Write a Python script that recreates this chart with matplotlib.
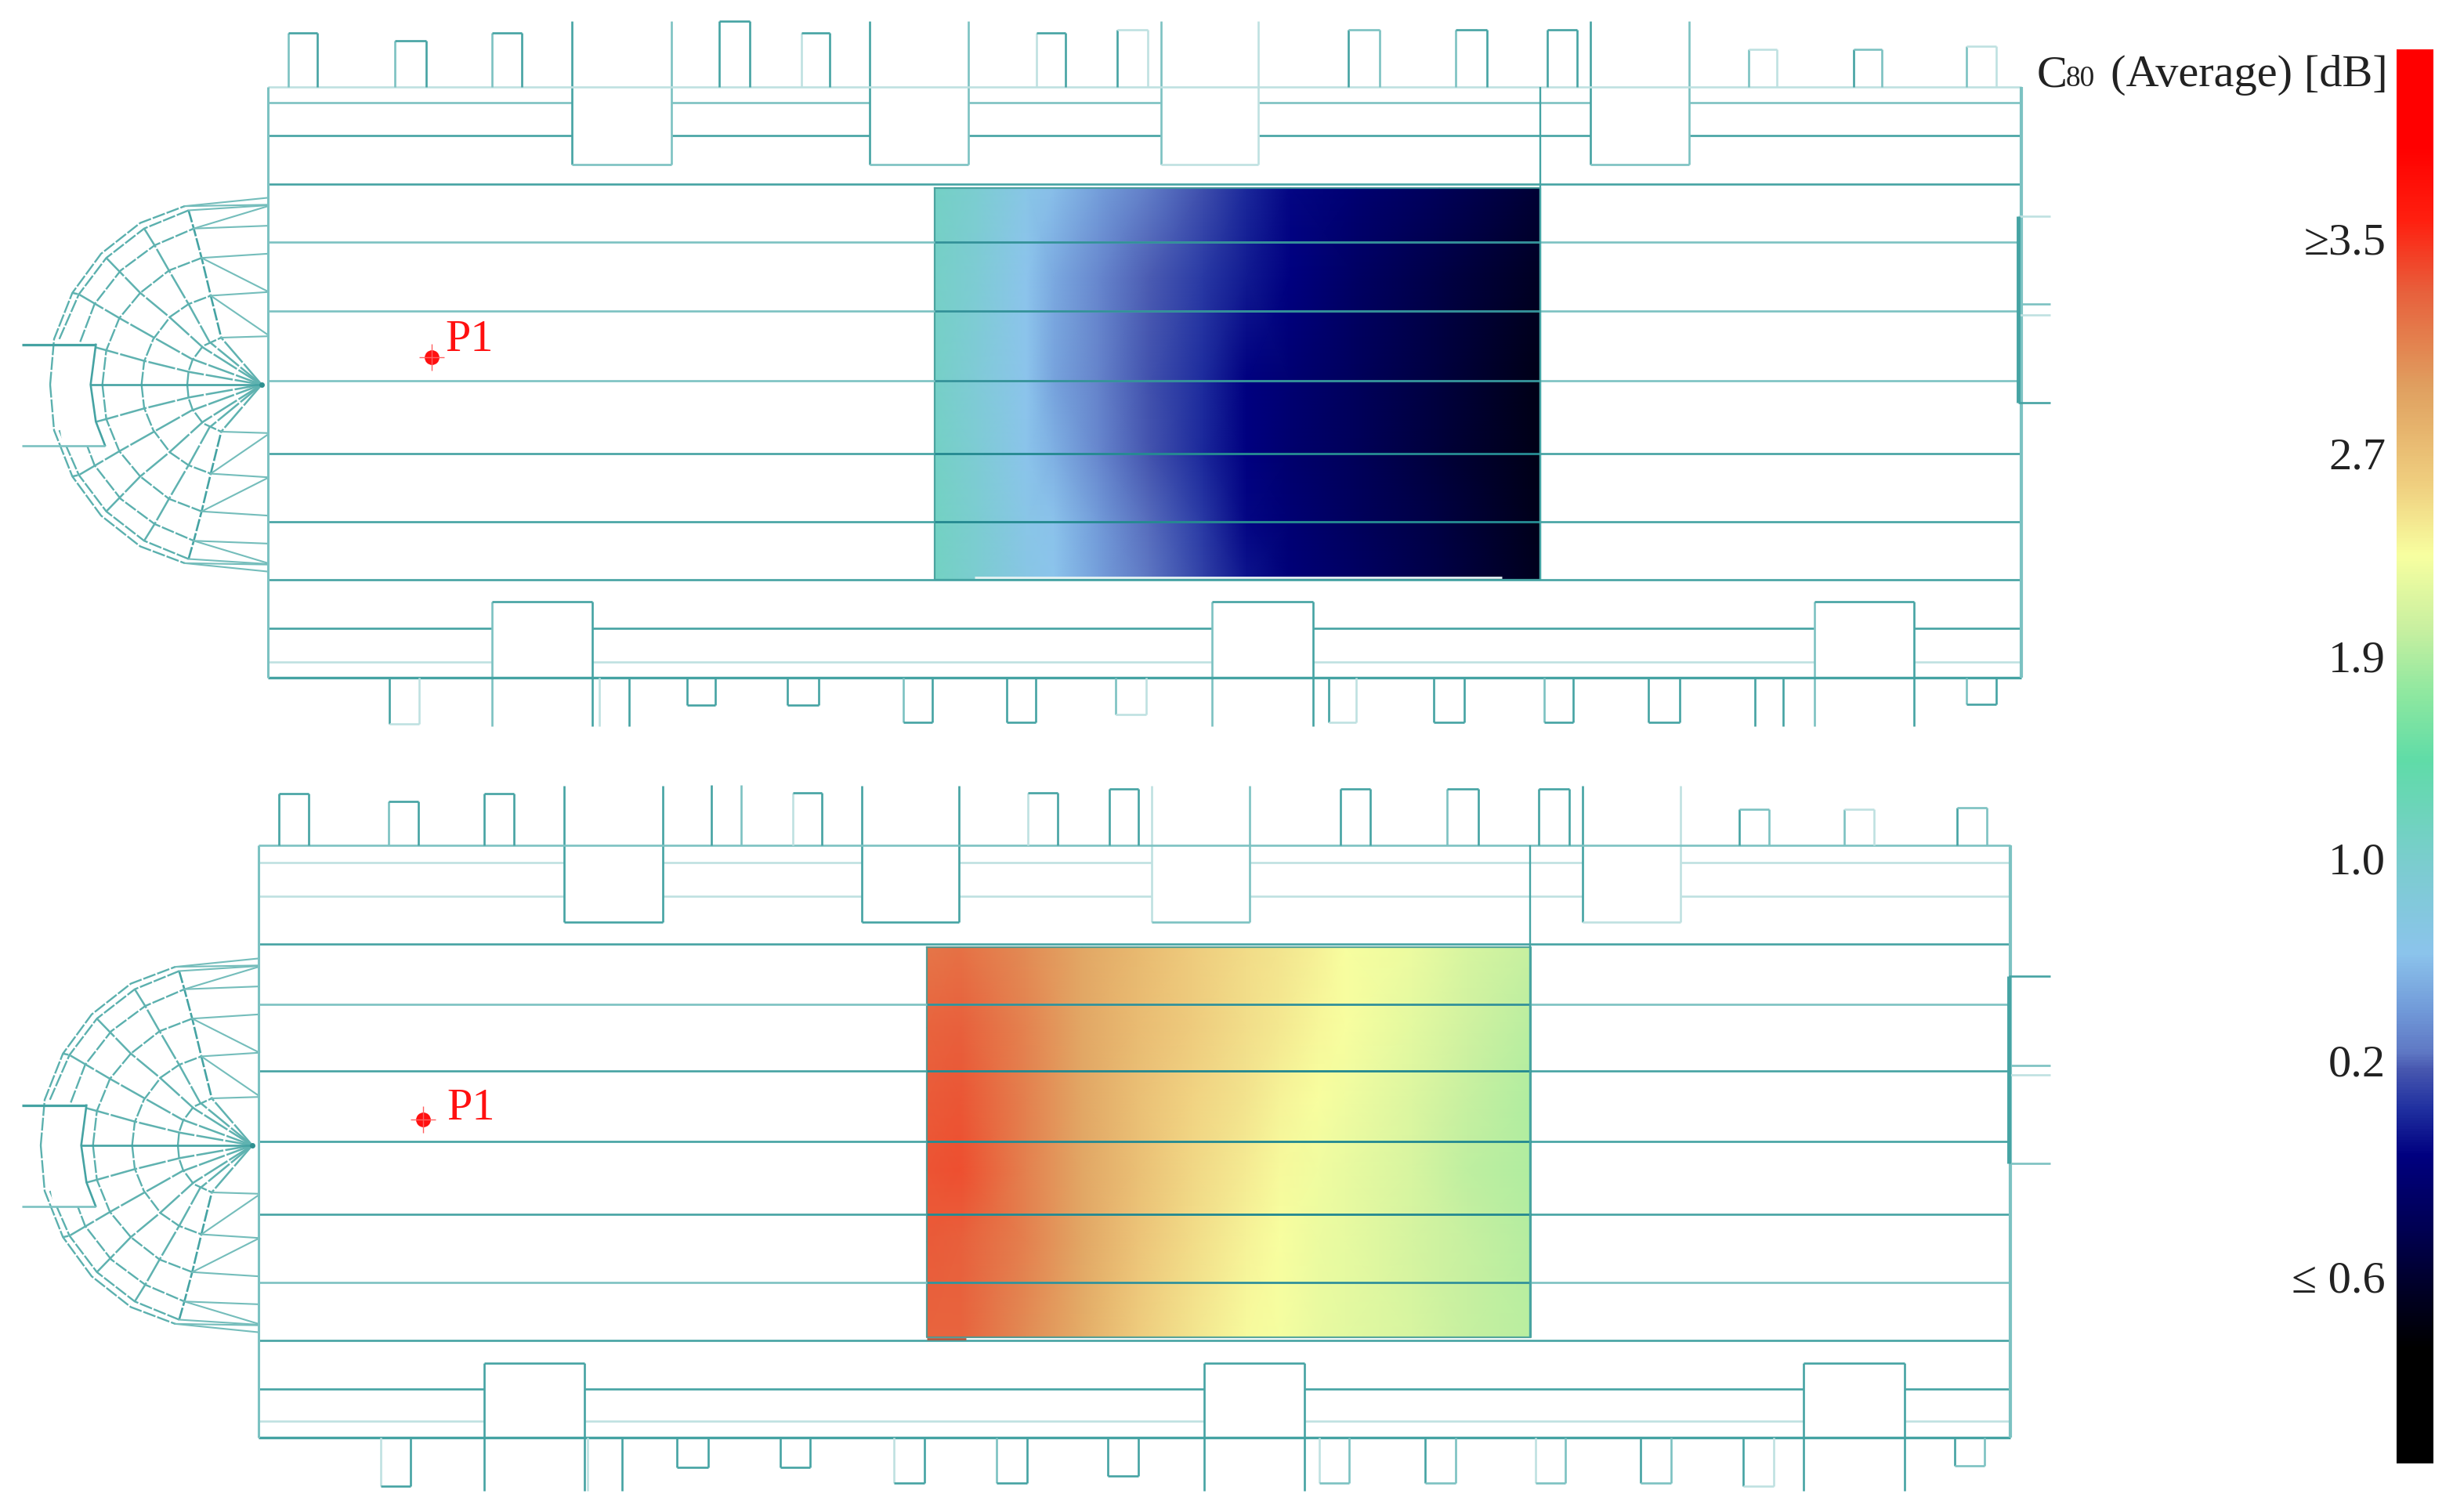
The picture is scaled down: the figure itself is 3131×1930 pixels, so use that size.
import numpy as np
import matplotlib
matplotlib.use("Agg")
import matplotlib.pyplot as plt
from matplotlib.colors import LinearSegmentedColormap, Normalize

W, H = 3131, 1931
SHADES = {"d": "#45a3a3", "m": "#7cc2c2", "l": "#bfe1e1"}
SERIF = ["Liberation Serif", "DejaVu Serif"]

# colour bar, position 0 = bottom, 1 = top
CBAR_POS = [0.0, 0.08, 0.115, 0.162, 0.217, 0.25, 0.278, 0.29, 0.318, 0.36, 0.422, 0.497,
            0.544, 0.59, 0.643, 0.692, 0.762, 0.83, 0.88, 0.933, 1.0]
CBAR_COLORS = ["#000000", "#000000", "#000020", "#000050", "#000080", "#2030a0", "#4858b0",
               "#5f78c4", "#7098d8", "#8cc4ec", "#7ccdd0", "#60dca8", "#8ee8a0", "#c8f0a0",
               "#f8ffa0", "#f0d080", "#e0a060", "#e8603c", "#ff2010", "#ff0000", "#ff0000"]
CBAR_MIN, CBAR_MAX = -1.3, 4.22
CBAR_TICKS = [3.486, 2.646, 1.856, 1.066, 0.276, -0.569]
CBAR_LABELS = ["≥3.5", "2.7", "1.9", "1.0", "0.2", "≤ 0.6"]

# heat maps [dB]
TOP_HEAT_X = [1193, 1247, 1310, 1345, 1402, 1465, 1535, 1591, 1647, 1731, 1837, 1966]
TOP_HEAT_Y = [241, 355, 490, 582, 667, 741]
TOP_HEAT = [
    [1.14, 1.02, 0.75, 0.66, 0.50, 0.33, 0.20, 0.05, -0.08, -0.20, -0.35, -0.55],
    [1.12, 0.98, 0.69, 0.55, 0.38, 0.25, 0.12, 0.00, -0.10, -0.28, -0.45, -0.65],
    [1.12, 0.95, 0.69, 0.52, 0.36, 0.22, 0.06, -0.10, -0.20, -0.33, -0.50, -0.72],
    [1.14, 0.98, 0.70, 0.58, 0.38, 0.23, 0.05, -0.10, -0.22, -0.35, -0.52, -0.72],
    [1.16, 1.02, 0.75, 0.68, 0.47, 0.28, 0.12, -0.08, -0.18, -0.32, -0.48, -0.70],
    [1.16, 1.02, 0.78, 0.69, 0.50, 0.30, 0.15, -0.02, -0.15, -0.28, -0.45, -0.68],
]
BOT_HEAT_X = [1183, 1226, 1310, 1381, 1451, 1521, 1591, 1633, 1682, 1717, 1802, 1872, 1954]
BOT_HEAT_Y = [1210, 1313, 1405, 1495, 1586, 1708]
BOT_HEAT = [
    [3.15, 3.18, 3.02, 2.85, 2.70, 2.55, 2.45, 2.40, 2.33, 2.25, 2.18, 2.05, 1.95],
    [3.25, 3.28, 3.07, 2.85, 2.68, 2.55, 2.44, 2.38, 2.30, 2.25, 2.12, 2.00, 1.90],
    [3.30, 3.32, 3.08, 2.85, 2.65, 2.50, 2.40, 2.32, 2.25, 2.20, 2.08, 1.95, 1.85],
    [3.33, 3.35, 3.08, 2.85, 2.65, 2.48, 2.36, 2.28, 2.20, 2.15, 2.05, 1.92, 1.85],
    [3.30, 3.28, 3.08, 2.85, 2.62, 2.45, 2.32, 2.25, 2.18, 2.14, 2.04, 1.95, 1.88],
    [3.25, 3.25, 3.02, 2.80, 2.55, 2.40, 2.27, 2.23, 2.15, 2.12, 2.05, 1.95, 1.90],
]

# plan outlines, pixel coordinates of the drawing
TOP_LINES = [(132, "m"), (174, "d"), (236, "d"), (310, "m"), (398, "m"), (487, "m"),
             (580, "d"), (667, "d"), (741, "d"), (803, "d"), (846, "l")]
TOP_WINDOWS = [(368, 405, 43, "md"), (504, 544, 53, "md"), (628, 666, 43, "md"), (918, 957, 28, "dd"),
               (1023, 1059, 43, "ld"), (1323, 1360, 43, "ld"), (1426, 1465, 39, "dl"), (1721, 1761, 39, "dm"),
               (1858, 1898, 39, "md"), (1975, 2013, 39, "dd"), (2232, 2268, 64, "ml"), (2366, 2402, 64, "dm"),
               (2510, 2548, 60, "ml")]
TOP_CHAPELS = [(730, 857, "dm"), (1110, 1236, "dm"), (1482, 1606, "ml"), (2030, 2156, "dm")]
TOP_LOW_WINDOWS = [(497, 535, 925, "dl"), (765, 803, 928, "ld"), (877, 913, 901, "dd"), (1005, 1045, 901, "dd"),
                   (1153, 1190, 923, "md"), (1285, 1322, 923, "dd"), (1424, 1463, 913, "ml"), (1696, 1731, 923, "dl"),
                   (1830, 1869, 923, "dd"), (1971, 2008, 923, "md"), (2104, 2144, 923, "dd"), (2240, 2276, 928, "dd"),
                   (2510, 2548, 900, "md")]
TOP_LOW_CHAPELS = [(628, 756, "md"), (1547, 1676, "md"), (2316, 2443, "md")]

BOT_LINES = [(1102, "l"), (1145, "l"), (1206, "d"), (1283, "m"), (1368, "d"), (1458, "d"),
             (1551, "d"), (1638, "m"), (1712, "d"), (1774, "d"), (1815, "l")]
BOT_WINDOWS = [(356, 394, 1014, "dd"), (496, 534, 1024, "md"), (618, 656, 1014, "dd"), (908, 946, 1003, "dmx"),
               (1012, 1049, 1013, "ld"), (1312, 1350, 1013, "ld"), (1416, 1453, 1008, "dd"), (1711, 1749, 1008, "dd"),
               (1847, 1887, 1008, "md"), (1964, 2003, 1008, "dd"), (2220, 2258, 1034, "dm"), (2354, 2392, 1034, "ml"),
               (2498, 2536, 1032, "dm")]
BOT_CHAPELS = [(720, 846, "dd"), (1100, 1224, "dd"), (1470, 1595, "lm"), (2020, 2145, "dl")]
BOT_LOW_WINDOWS = [(486, 524, 1898, "ld"), (750, 794, 1904, "ld"), (864, 904, 1874, "dd"), (996, 1034, 1874, "dd"),
                   (1141, 1180, 1894, "ld"), (1272, 1311, 1894, "md"), (1414, 1453, 1885, "dd"), (1684, 1722, 1894, "lm"),
                   (1819, 1858, 1894, "dm"), (1960, 1998, 1894, "lm"), (2094, 2133, 1894, "dm"), (2225, 2264, 1898, "dl"),
                   (2495, 2533, 1872, "dm")]
BOT_LOW_CHAPELS = [(618, 746, "dd"), (1537, 1665, "dd"), (2302, 2431, "dd")]

# half dome, upper half only, points read in a 3 x 2.8 scaled crop, tip at (965, 793)
DOME_TIP = (965, 793)
DOME_SX, DOME_SY = 3.0, 2.8
DOME_ARCS = [
    [(680, 793), (685, 745), (700, 705), (740, 655), (810, 625)],
    [(505, 793), (515, 710), (550, 630), (615, 550), (685, 505), (770, 475)],
    [(355, 793), (370, 670), (420, 555), (500, 465), (610, 385), (735, 340)],
    [(270, 640), (325, 505), (425, 385), (555, 295), (705, 235)],
    [(190, 630), (265, 470), (370, 340), (515, 235), (685, 170)],
    [(155, 793), (170, 630), (240, 465), (350, 325), (500, 215), (670, 155)],
]
DOME_SPOKES = [
    [(965, 793), (690, 748), (515, 708), (370, 670), (330, 660)],
    [(965, 793), (695, 700), (420, 555), (265, 470), (240, 465)],
    [(965, 793), (740, 660), (610, 550), (500, 465), (370, 340)],
    [(965, 793), (765, 640), (685, 505), (610, 385), (555, 295), (515, 235)],
    [(965, 793), (810, 625)],
]
DOME_RING = [(685, 170), (705, 235), (735, 340), (770, 475), (810, 625)]
DOME_FAN = [(670, 155, 125), (670, 155, 150), (685, 170, 152), (705, 235, 225), (705, 235, 155),
            (735, 340, 325), (735, 340, 460), (770, 475, 462), (770, 475, 615), (810, 625, 620)]
# chapel at the far end of the dome, not symmetric about the axis
CHAPEL_OUT = [(330, 650), (310, 793), (330, 925), (365, 1010)]
CHAPEL_FILL = [(180, 650), (330, 650), (310, 793), (330, 925), (365, 1010), (205, 1010), (168, 793)]


def seg(ax, x0, y0, x1, y1, shade="d", lw=1.9, zorder=3, **kw):
    ax.plot([x0, x1], [y0, y1], color=SHADES.get(shade, shade), lw=lw, zorder=zorder,
            solid_capstyle="butt", **kw)


def draw_apse(ax, tip_x, tip_y, wall_x):
    def to_xy(pts, flip=False):
        pts = np.array(pts, dtype=float)
        if flip:
            pts[:, 1] = 2 * DOME_TIP[1] - pts[:, 1]
        return (tip_x + (pts[:, 0] - DOME_TIP[0]) / DOME_SX,
                tip_y + (pts[:, 1] - DOME_TIP[1]) / DOME_SY)

    for flip in (False, True):
        for arc in DOME_ARCS:
            ax.plot(*to_xy(arc, flip), color="#5bb0ae", lw=1.7, ls=(0, (7, 1)), zorder=2)
        for spoke in DOME_SPOKES:
            ax.plot(*to_xy(spoke, flip), color="#5fb2b0", lw=1.8, ls=(0, (14, 1)), zorder=2)
        ax.plot(*to_xy(DOME_RING, flip), color="#45a3a3", lw=1.9, ls=(0, (6, 1)), zorder=2)
        for nx, ny, wy in DOME_FAN:
            xs, ys = to_xy([(nx, ny), (wall_x, wy)], flip)
            xs[1] = wall_x
            ax.plot(xs, ys, color="#74bdbb", lw=1.5, zorder=2)
    xs, ys = to_xy(CHAPEL_FILL)
    ax.fill(xs, ys, color="white", zorder=2.5)
    xs, ys = to_xy(CHAPEL_OUT)
    ax.plot(xs, ys, color=SHADES["d"], lw=1.9, zorder=3)
    seg(ax, 28, ys[0], xs[0], ys[0], "d", 2.3)
    seg(ax, 28, ys[-1], xs[-1], ys[-1], "m", 1.9)
    seg(ax, xs[1], tip_y, wall_x - 8, tip_y, "d", 1.9)
    ax.plot([tip_x], [tip_y], "o", color="#2f9090", ms=5, mec="none", zorder=3)


def draw_plan(ax, x0, x1, y_top, y_wall_bot, lines, windows, chapels, chap_top, chap_bot,
              low_windows, low_chapels, low_top, low_bot, split_x, heat_x, heat_y, top_shade):
    for y, shade in lines:
        seg(ax, x0, y, x1, y, shade, zorder=2)
        # lines show darker where they cross the heat map
        if heat_y[0] < y < heat_y[-1]:
            seg(ax, heat_x[0], y, heat_x[-1], y, "#18808a", zorder=2.2, alpha=0.75)
    # the chapels sit on top of the aisle lines
    for cx0, cx1, s in chapels:
        ax.fill([cx0, cx1, cx1, cx0], [chap_top, chap_top, chap_bot, chap_bot], color="white", zorder=2.6)
        seg(ax, cx0, chap_top, cx0, chap_bot, s[0])
        seg(ax, cx1, chap_top, cx1, chap_bot, s[1])
        seg(ax, cx0, chap_bot, cx1, chap_bot, s[1])
    for cx0, cx1, s in low_chapels:
        ax.fill([cx0, cx1, cx1, cx0], [low_top, low_top, y_wall_bot, y_wall_bot], color="white", zorder=2.6)
        seg(ax, cx0, low_top, cx0, low_bot, s[0])
        seg(ax, cx1, low_top, cx1, low_bot, s[1])
        seg(ax, cx0, low_top, cx1, low_top, s[1])
    seg(ax, x0, y_top, x1, y_top, top_shade)
    seg(ax, x0, y_wall_bot, x1, y_wall_bot, "d", 2.4)
    seg(ax, x0, y_top, x0, y_wall_bot, "m", 2.2)
    seg(ax, x1, y_top, x1, y_wall_bot, "m", 3)
    seg(ax, split_x, y_top, split_x, heat_y[-1], "d", 1.7, zorder=4)
    for a, b, top, s in windows:
        seg(ax, a, top, a, y_top, s[0])
        seg(ax, b, top, b, y_top, s[1])
        if len(s) == 2:
            seg(ax, a, top, b, top, s[1])
    for a, b, bot, s in low_windows:
        seg(ax, a, y_wall_bot, a, bot, s[0])
        seg(ax, b, y_wall_bot, b, bot, s[1])
        if bot < low_bot:
            seg(ax, a, bot, b, bot, s[1])


fig = plt.figure(figsize=(W / 100, H / 100), dpi=100, facecolor="white")
ax = fig.add_axes([0, 0, 1, 1])
ax.set_xlim(0, W)
ax.set_ylim(H, 0)
ax.axis("off")

cmap = LinearSegmentedColormap.from_list("c80", list(zip(CBAR_POS, CBAR_COLORS)), N=512)
norm = Normalize(CBAR_MIN, CBAR_MAX)

ax.pcolormesh(TOP_HEAT_X, TOP_HEAT_Y, np.array(TOP_HEAT), shading="gouraud", cmap=cmap, norm=norm, zorder=1)
ax.pcolormesh(BOT_HEAT_X, BOT_HEAT_Y, np.array(BOT_HEAT), shading="gouraud", cmap=cmap, norm=norm, zorder=1)
# heat map outlines
for hx, hy in ((TOP_HEAT_X, TOP_HEAT_Y), (BOT_HEAT_X, BOT_HEAT_Y)):
    ax.plot([hx[0], hx[-1], hx[-1], hx[0], hx[0]], [hy[0], hy[0], hy[-1], hy[-1], hy[0]],
            color="#3f9a96", lw=1.6, alpha=0.85, zorder=1.5)
# pale sliver and short dark end along the lower edge
seg(ax, 1244, 738, 1917, 738, "#e6f2f2", 2.0, zorder=1.6)
seg(ax, 1183, 1710, 1233, 1710, "#b05a40", 2.0, zorder=2.5)

draw_plan(ax, 342, 2580, 112, 866, TOP_LINES, TOP_WINDOWS, TOP_CHAPELS, 28, 211,
          TOP_LOW_WINDOWS, TOP_LOW_CHAPELS, 769, 928, 1966, TOP_HEAT_X, TOP_HEAT_Y, "l")
draw_plan(ax, 330, 2566, 1080, 1836, BOT_LINES, BOT_WINDOWS, BOT_CHAPELS, 1004, 1178,
          BOT_LOW_WINDOWS, BOT_LOW_CHAPELS, 1741, 1904, 1953, BOT_HEAT_X, BOT_HEAT_Y, "m")
draw_apse(ax, 334, 492, 342)
draw_apse(ax, 322, 1463, 330)

# apertures on the right hand wall
for y, s in [(277, "l"), (389, "m"), (403, "l"), (515, "d")]:
    seg(ax, 2576, y, 2617, y, s)
seg(ax, 2576, 277, 2576, 515, "d", 3.5)
for y, s in [(1247, "d"), (1361, "m"), (1373, "l"), (1486, "m")]:
    seg(ax, 2564, y, 2617, y, s)
seg(ax, 2564, 1247, 2564, 1486, "d", 3.5)

# receiver points
for px, py, tx, ty in [(551, 457, 568, 434), (540, 1430, 570, 1415)]:
    ax.plot([px], [py], "o", color="#ff1010", ms=13.5, mec="none", zorder=5)
    seg(ax, px - 16, py, px + 16, py, "#ff6060", 1.0, zorder=5)
    seg(ax, px, py - 17, px, py + 17, "#ff6060", 1.0, zorder=5)
    ax.text(tx, ty, "P1", color="#ff1010", fontsize=42, family=SERIF, va="center", ha="left", zorder=6)

# colour bar
cax = fig.add_axes([3059 / W, 1 - 1869 / H, 47 / W, (1869 - 64) / H])
grad = np.linspace(CBAR_MAX, CBAR_MIN, 600).reshape(-1, 1)
cax.imshow(grad, cmap=cmap, norm=norm, aspect="auto", extent=[0, 1, CBAR_MIN, CBAR_MAX], interpolation="bilinear")
cax.set_xticks([])
cax.set_yticks(CBAR_TICKS, CBAR_LABELS, family=SERIF, fontsize=42, color="#222222")
cax.tick_params(axis="y", length=0, pad=10)
for sp in cax.spines.values():
    sp.set_visible(False)

# title of the bar, "80" drawn smaller
ax.text(2600, 96, "C", fontsize=42, family=SERIF, color="#222222", ha="left", va="center")
ax.text(2637, 101, "80", fontsize=27, family=SERIF, color="#222222", ha="left", va="center")
ax.text(3048, 96, "(Average) [dB]", fontsize=42, family=SERIF, color="#222222", ha="right", va="center")

fig.savefig("out.png", dpi=100, facecolor="white")
